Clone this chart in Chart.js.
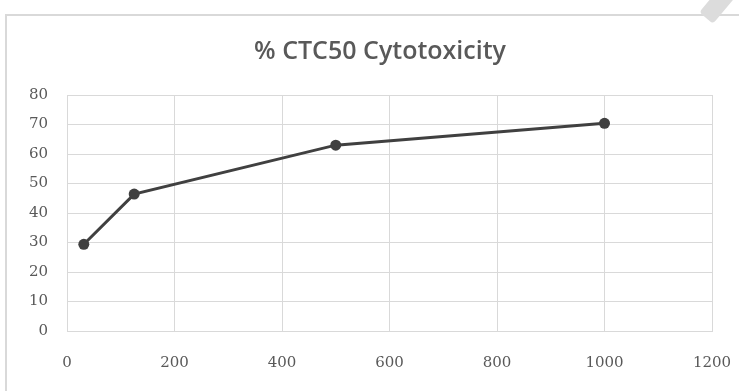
<!DOCTYPE html>
<html>
<head>
<meta charset="utf-8">
<script src="https://cdn.jsdelivr.net/npm/chart.js@4"></script>
<style>
    html, body { margin: 0; padding: 0; background: #ffffff; }
    #wrap { position: relative; width: 739px; height: 391px; overflow: hidden; }
    #frame {
        position: absolute; left: 5px; top: 14px; width: 760px; height: 400px;
        border: 2px solid #d9d9d9; box-sizing: border-box;
    }
    #mark {
        position: absolute; left: 708px; top: -12px; width: 18px; height: 34px;
        background: #dcdcdc; border-radius: 4px; transform: rotate(40deg);
    }
    canvas { position: absolute; left: 0; top: 0; }
</style>
</head>
<body>
<div id="wrap">
    <div id="frame"></div>
    <div id="mark"></div>
    <canvas id="chart" width="739" height="391"></canvas>
</div>
<script>
// Concentration (x) and % cytotoxicity (y)
const doses = [31.25, 125, 500, 1000];
const cytotoxicity = [29.4, 46.4, 63.0, 70.4];
const chartTitle = '% CTC50 Cytotoxicity';

const textGray = '#595959';
const gridGray = '#d9d9d9';
const tickFont = { family: "'DejaVu Serif', serif", size: 15 };

// title is centred on the outer frame, not on the plot
const frameTitle = {
    id: 'frameTitle',
    afterDraw(chart) {
        const c = chart.ctx;
        c.save();
        c.fillStyle = textGray;
        c.font = "600 25px 'Open Sans', sans-serif";
        c.textAlign = 'center';
        c.textBaseline = 'middle';
        c.fillText(chartTitle, 380, 52);
        c.restore();
    }
};

document.addEventListener('DOMContentLoaded', () => {
    const ctx = document.getElementById('chart').getContext('2d');
    new Chart(ctx, {
        type: 'scatter',
        data: {
            datasets: [{
                label: chartTitle,
                data: doses.map((d, i) => ({ x: d, y: cytotoxicity[i] })),
                showLine: true,
                borderColor: '#404040',
                backgroundColor: '#404040',
                borderWidth: 3,
                pointRadius: 5.5,
                pointBorderWidth: 0,
                tension: 0
            }]
        },
        plugins: [frameTitle],
        options: {
            responsive: false,
            animation: false,
            layout: { padding: { left: 0, right: 27, top: 95, bottom: 0 } },
            plugins: {
                legend: { display: false },
                tooltip: { enabled: false },
                title: { display: false }
            },
            scales: {
                x: {
                    type: 'linear',
                    min: 0,
                    max: 1200,
                    ticks: {
                        stepSize: 200, color: textGray, font: tickFont, padding: 23,
                        callback: (v) => String(v)
                    },
                    grid: { color: gridGray, lineWidth: 1, drawTicks: false },
                    border: { color: gridGray },
                    afterFit: (scale) => {
                        scale.height = 60;
                        scale.paddingRight = 0;
                    }
                },
                y: {
                    min: 0,
                    max: 80,
                    ticks: { stepSize: 10, color: textGray, font: tickFont, padding: 19 },
                    grid: { color: gridGray, lineWidth: 1, drawTicks: false },
                    border: { color: gridGray },
                    afterFit: (scale) => { scale.width = 67; }
                }
            }
        }
    });
});
</script>
</body>
</html>
